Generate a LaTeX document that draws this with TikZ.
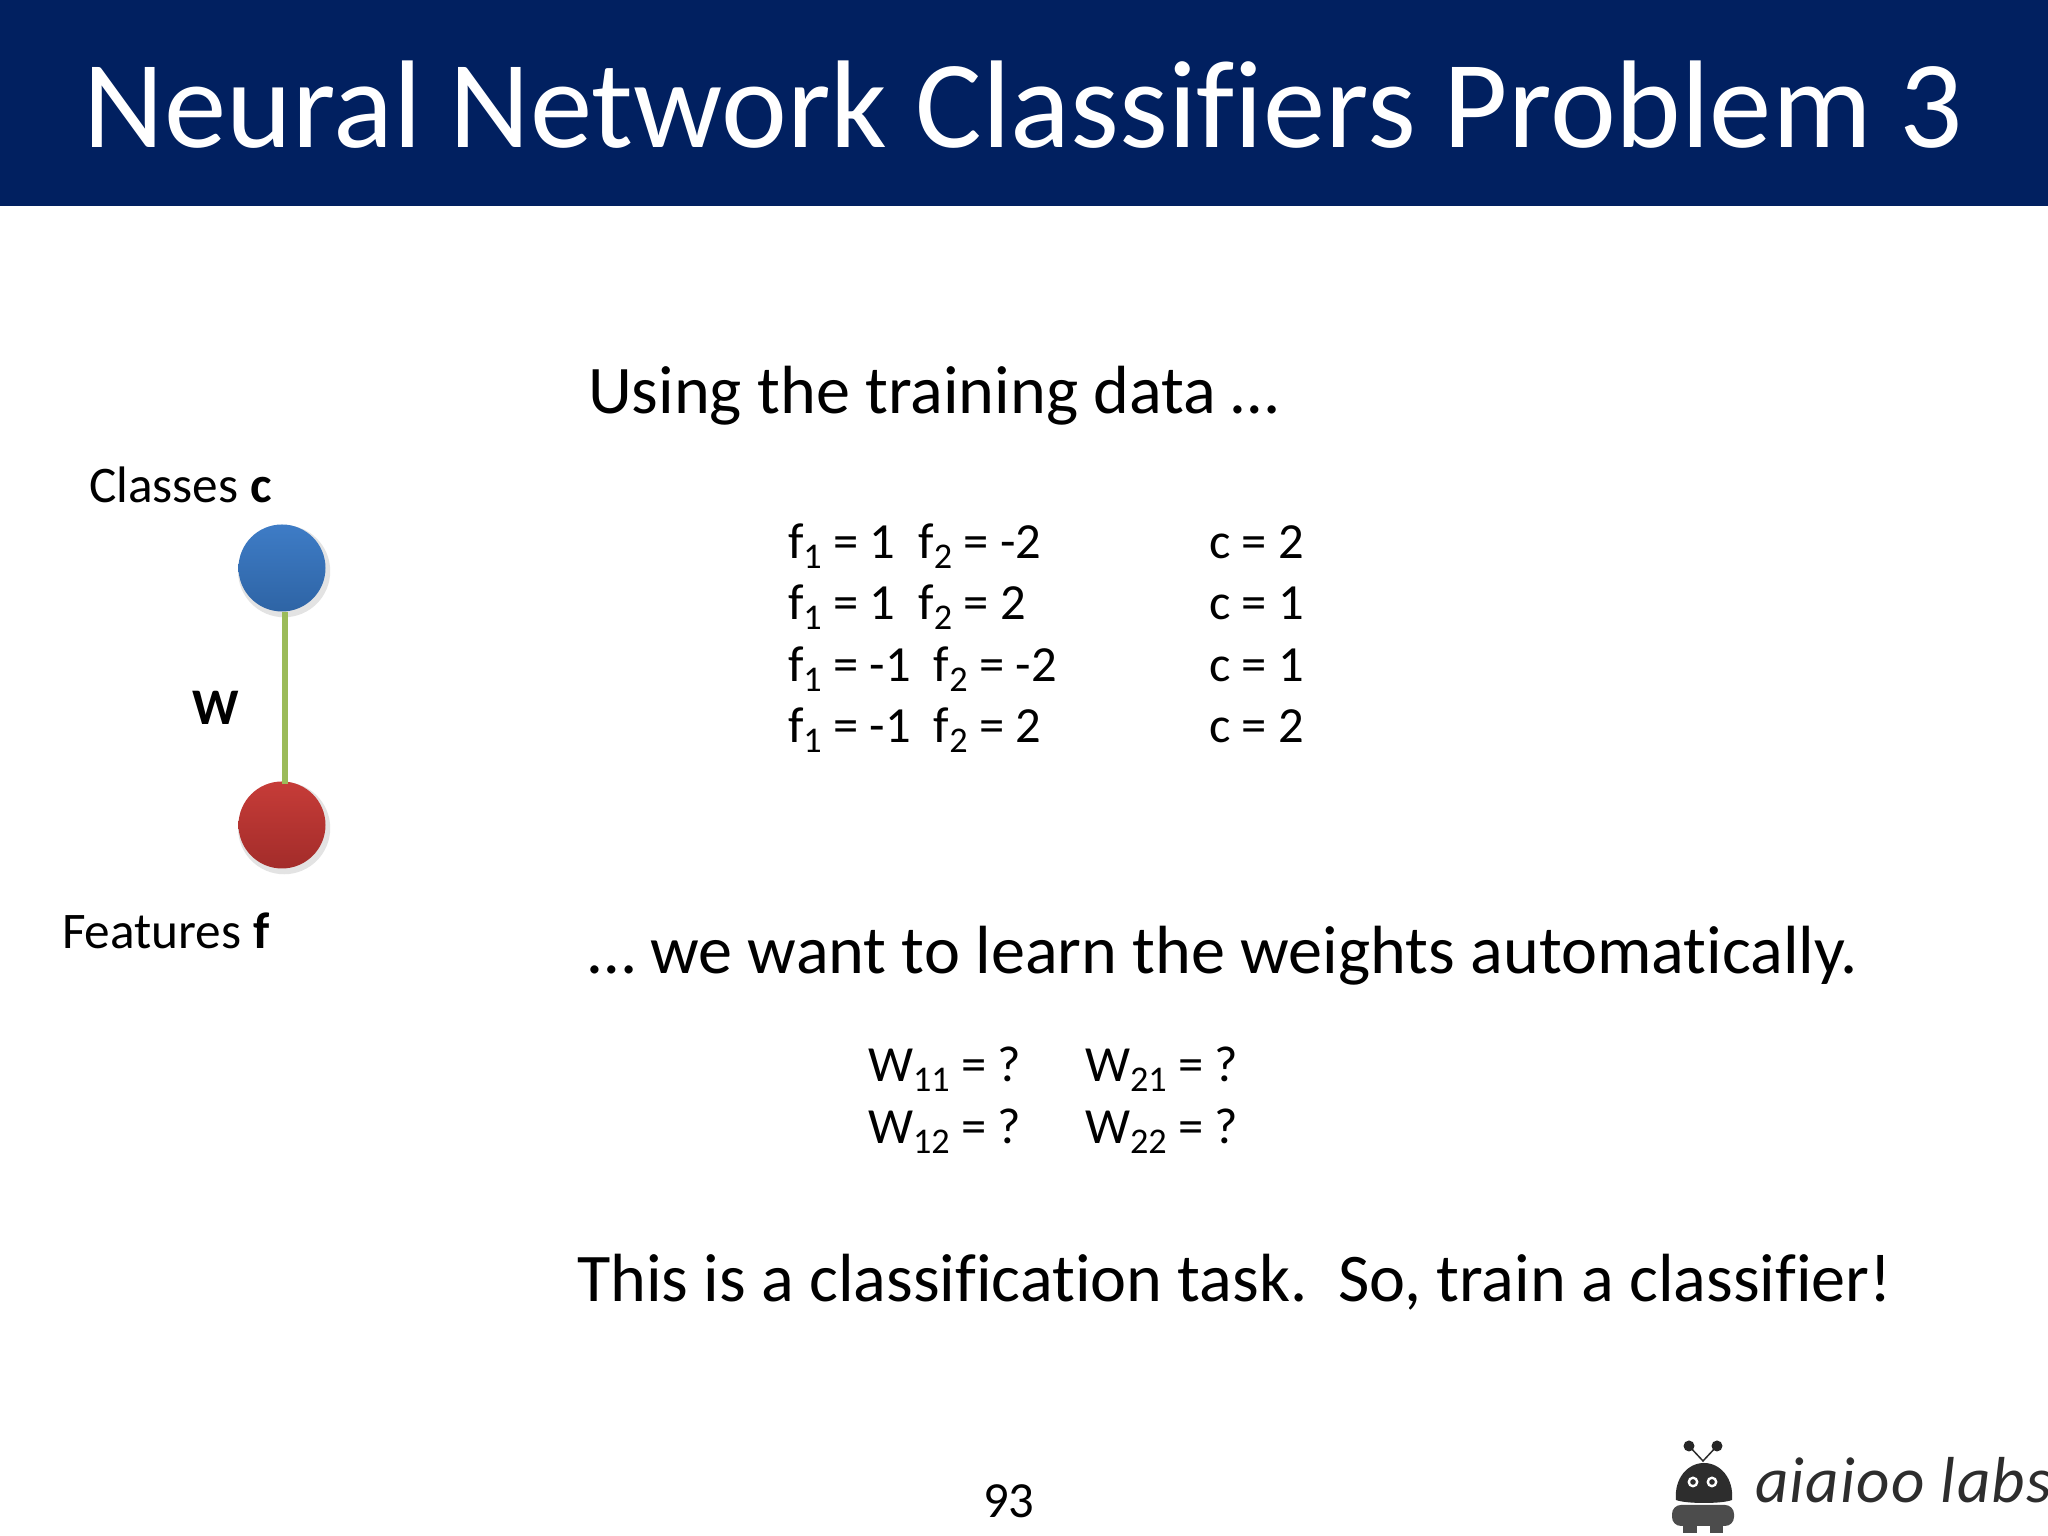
\documentclass[tikz,border=0pt]{standalone}
\usepackage{fontspec}
\setmainfont[Ligatures=NoCommon]{Carlito}
\usetikzlibrary{shadows}
\definecolor{bandblue}{RGB}{1,32,96}
\definecolor{logogray}{RGB}{45,45,45}
\definecolor{weightgreen}{RGB}{155,187,89}
\newcommand{\low}[1]{\raisebox{-0.4ex}{\fontsize{10.3pt}{12pt}\selectfont #1}}
\tikzset{
  txt/.style = {anchor=base west, inner sep=0pt, outer sep=0pt},
  bigtxt/.style = {txt, font=\fontsize{19.4pt}{22pt}\selectfont},
  rowtxt/.style = {txt, font=\fontsize{14.4pt}{17pt}\selectfont},
  sidetxt/.style = {txt, font=\fontsize{14.6pt}{17pt}\selectfont},
  ball/.style = {circle, minimum size=0.87cm, inner sep=0pt,
    drop shadow={shadow xshift=0.02cm, shadow yshift=-0.03cm, shadow scale=1.06, opacity=0.22}},
}
\begin{document}
\begin{tikzpicture}
\useasboundingbox (0,0) rectangle (20.48,15.36);
\fill[white] (0,0) rectangle (20.48,15.36);
\fill[bandblue] (0,13.30) rectangle (20.48,15.36);
\node[txt, white, font=\fontsize{35.5pt}{40pt}\selectfont] (title) at(0.84,13.88) {Neural Network Classifiers Problem 3};
% network on the left
\node[sidetxt] (classes) at(0.89,10.33) {Classes \textbf{c}};
\node[ball, top color={rgb,255:red,62;green,124;blue,198}, bottom color={rgb,255:red,46;green,100;blue,165}] (cnode) at(2.82,9.68) {};
\node[ball, top color={rgb,255:red,198;green,60;blue,56}, bottom color={rgb,255:red,163;green,44;blue,42}] (fnode) at(2.82,7.11) {};
\draw[line width=0.06cm, weightgreen] ([xshift=0.03cm]cnode.south) -- ([xshift=0.03cm,yshift=-0.03cm]fnode.north);
\node[txt, font=\bfseries\fontsize{14.6pt}{18pt}\selectfont] (wlabel) at(1.92,8.11) {W};
\node[sidetxt] (features) at(0.62,5.87) {Features \textbf{f}};
% training data
\node[bigtxt] (using) at(5.88,11.22) {Using the training data …};
\node[rowtxt] (row1) at(7.88,9.77) {f\low{1} = 1\ \ f\low{2} = -2};
\node[rowtxt] (row2) at(7.88,9.16) {f\low{1} = 1\ \ f\low{2} = 2};
\node[rowtxt] (row3) at(7.88,8.545) {f\low{1} = -1\ \ f\low{2} = -2};
\node[rowtxt] (row4) at(7.88,7.93) {f\low{1} = -1\ \ f\low{2} = 2};
\node[rowtxt] (class1) at(12.09,9.77) {c = 2};
\node[rowtxt] (class2) at(12.09,9.16) {c = 1};
\node[rowtxt] (class3) at(12.09,8.545) {c = 1};
\node[rowtxt] (class4) at(12.09,7.93) {c = 2};
% weights
\node[bigtxt] (want) at(5.88,5.62) {… we want to learn the weights automatically.};
\node[rowtxt] (w11) at(8.68,4.545) {W\low{11} = ?};
\node[rowtxt] (w12) at(8.68,3.925) {W\low{12} = ?};
\node[rowtxt] (w21) at(10.85,4.545) {W\low{21} = ?};
\node[rowtxt] (w22) at(10.85,3.925) {W\low{22} = ?};
\node[bigtxt] (task) at(5.77,2.34) {This is a classification task.\ \ So, train a classifier!};
\node[rowtxt] (page) at(9.83,0.185) {93};
% logo
\begin{scope}
\clip (0,0) rectangle (20.48,15.36);
\draw[logogray, line width=0.015cm] (16.89,0.90) -- (17.03,0.75) -- (17.17,0.90);
\fill[black!85] (16.89,0.90) circle[radius=0.055];
\fill[black!85] (17.17,0.90) circle[radius=0.055];
\fill[logogray] (16.76,0.36) .. controls (16.74,0.58) and (16.88,0.73) .. (17.04,0.73) .. controls (17.20,0.73) and (17.34,0.58) .. (17.32,0.36) .. controls (17.22,0.32) and (16.86,0.32) .. (16.76,0.36) -- cycle;
\fill[white] (16.93,0.54) circle[radius=0.055];
\fill[white] (17.12,0.54) circle[radius=0.055];
\fill[logogray] (16.93,0.54) circle[radius=0.028];
\fill[logogray] (17.12,0.54) circle[radius=0.028];
\fill[black!70, rounded corners=0.09cm] (16.72,0.10) rectangle (17.34,0.31);
\fill[black!70] (16.83,0.03) rectangle (16.97,0.12);
\fill[black!70] (17.10,0.03) rectangle (17.23,0.12);
\node[txt, logogray, font=\itshape\fontsize{18.5pt}{20pt}\selectfont\addfontfeatures{LetterSpace=2}] (logotxt) at(17.55,0.33) {aiaioo labs};
\end{scope}
\end{tikzpicture}
\end{document}
